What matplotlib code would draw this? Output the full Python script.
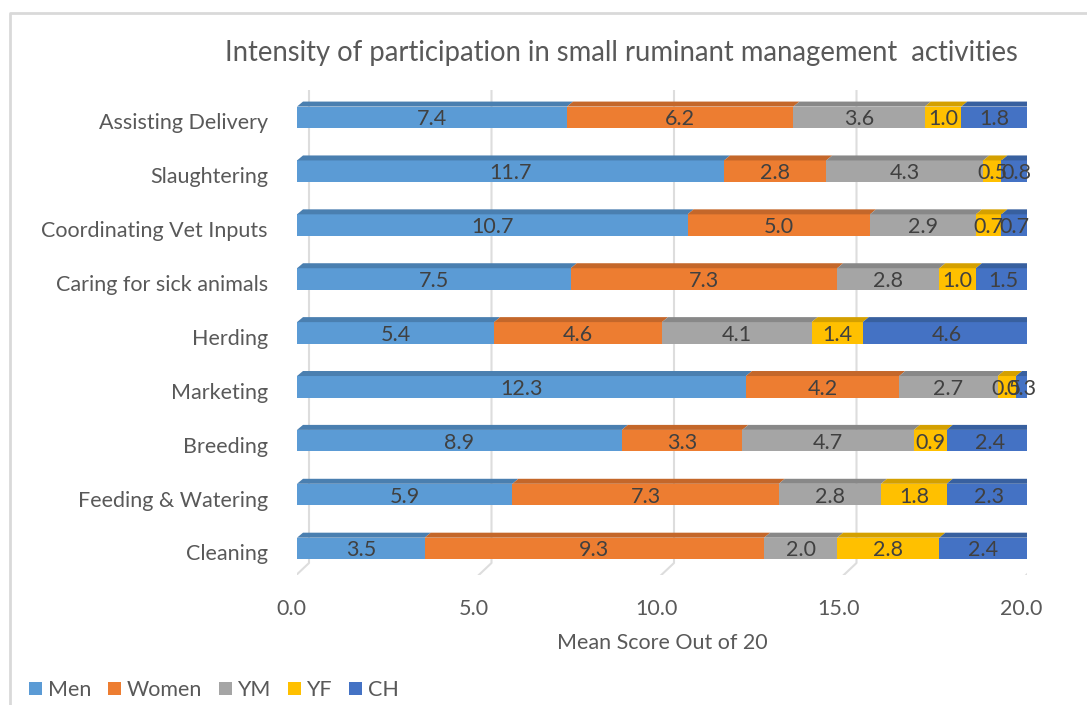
import matplotlib.pyplot as plt
from matplotlib.patches import Polygon, Patch
from matplotlib.lines import Line2D
from matplotlib.transforms import IdentityTransform, ScaledTranslation
import numpy as np

plt.rcParams['font.family'] = ['Lato', 'DejaVu Sans']

# data (bottom to top, as drawn)
categories = ['Cleaning', 'Feeding & Watering', 'Breeding', 'Marketing', 'Herding',
              'Caring for sick animals', 'Coordinating Vet Inputs', 'Slaughtering',
              'Assisting Delivery']
men = [3.5, 5.9, 8.9, 12.3, 5.4, 7.5, 10.7, 11.7, 7.4]
women = [9.3, 7.3, 3.3, 4.2, 4.6, 7.3, 5.0, 2.8, 6.2]
ym = [2.0, 2.8, 4.7, 2.7, 4.1, 2.8, 2.9, 4.3, 3.6]
yf = [2.8, 1.8, 0.9, 0.5, 1.4, 1.0, 0.7, 0.5, 1.0]
ch = [2.4, 2.3, 2.4, 0.3, 4.6, 1.5, 0.7, 0.8, 1.8]
series_names = ['Men', 'Women', 'YM', 'YF', 'CH']
ticks = [0, 5, 10, 15, 20]

colors = ['#5B9BD5', '#ED7D31', '#A5A5A5', '#FFC000', '#4472C4']
tops = ['#4A7FB0', '#C4672A', '#888888', '#D4A000', '#38609F']
sides = ['#3F6E98', '#A95823', '#777777', '#B88A00', '#2F4F86']

W, H = 1087, 705
fig = plt.figure(figsize=(W / 100, H / 100), dpi=100)
ax = fig.add_axes([297 / W, 1 - 575.4 / H, 730 / W, 485 / H])
ax.set_xlim(0, 20)
ax.set_ylim(-0.5, 8.5)
for s in ax.spines.values():
    s.set_visible(False)

bar_h = 0.4
dx, dy = 6, 5  # 3d depth in pixels
ident = IdentityTransform()
y = np.arange(len(categories))
data = [men, women, ym, yf, ch]

def px(xd, yd):
    return ax.transData.transform((xd, yd))

# back wall / floor grid lines
for t in ticks:
    xb = px(t, 0)[0]
    ax.add_line(Line2D([xb + 12, xb + 12, xb - 6], [H - 85, H - 563, H - 580],
                       transform=ident, color='#DDDDDD', lw=1.5, zorder=0))
x0p = px(0, 0)[0]
ax.add_line(Line2D([x0p - 5, x0p - 5, x0p - 12], [H - 95, H - 575, H - 582],
                   transform=ident, color='#DDDDDD', lw=1.5, zorder=0))

down2 = ScaledTranslation(0, -2 / 100, fig.dpi_scale_trans)
left = np.zeros(len(categories))
for i, vals in enumerate(data):
    vals = np.array(vals)
    ax.barh(y, vals, left=left, height=bar_h, color=colors[i], zorder=2,
            label=series_names[i])
    for j in range(len(y)):
        xa, yt = px(left[j], y[j] + bar_h / 2)
        xe, _ = px(left[j] + vals[j], y[j] + bar_h / 2)
        ax.add_patch(Polygon([(xa, yt), (xe, yt), (xe + dx, yt + dy), (xa + dx, yt + dy)],
                             closed=True, transform=ident, facecolor=tops[i],
                             edgecolor='none', zorder=2))
        if i == len(data) - 1:
            _, yb = px(0, y[j] - bar_h / 2)
            ax.add_patch(Polygon([(xe, yb), (xe, yt), (xe + dx, yt + dy), (xe + dx, yb + dy)],
                                 closed=True, transform=ident, facecolor=sides[i],
                                 edgecolor='none', zorder=2))
        ax.text(left[j] + vals[j] / 2, y[j], f'{vals[j]:.1f}', ha='center', va='center',
                fontsize=15.5, color='#404040', zorder=3,
                transform=ax.transData + down2)
    left = left + vals

ax.set_yticks(y)
ax.set_yticklabels(categories, fontsize=15.5, color='#595959')
ax.set_xticks(ticks)
ax.set_xticklabels([f'{t:.1f}' for t in ticks], fontsize=15.5, color='#595959')
ax.tick_params(axis='both', length=0)
ax.tick_params(axis='y', pad=21)
ax.tick_params(axis='x', pad=17)
for lbl in ax.get_xticklabels():
    lbl.set_transform(lbl.get_transform() + ScaledTranslation(-6 / 100, 0, fig.dpi_scale_trans))
for lbl in ax.get_yticklabels():
    lbl.set_transform(lbl.get_transform() + ScaledTranslation(0, -4 / 100, fig.dpi_scale_trans))
ax.set_xlabel('Mean Score Out of 20', fontsize=15.5, color='#595959', labelpad=10)

fig.text(621 / W, 1 - 53 / H, 'Intensity of participation in small ruminant management  activities',
         ha='center', va='center', fontsize=19.8, color='#595959')

# chart frame
fig.add_artist(Line2D([9.5, 9.5, W], [0, H - 13, H - 13], transform=ident,
                      color='#D9D9D9', lw=2))

handles = [Patch(facecolor=c) for c in colors]
fig.legend(handles, series_names, loc='center left', bbox_to_anchor=(10 / W, 1 - 690 / H),
           ncol=5, frameon=False, fontsize=15.5, handlelength=0.6, handleheight=0.6,
           handletextpad=0.25, columnspacing=0.8, labelcolor='#595959')

fig.savefig('out.png', dpi=100)
